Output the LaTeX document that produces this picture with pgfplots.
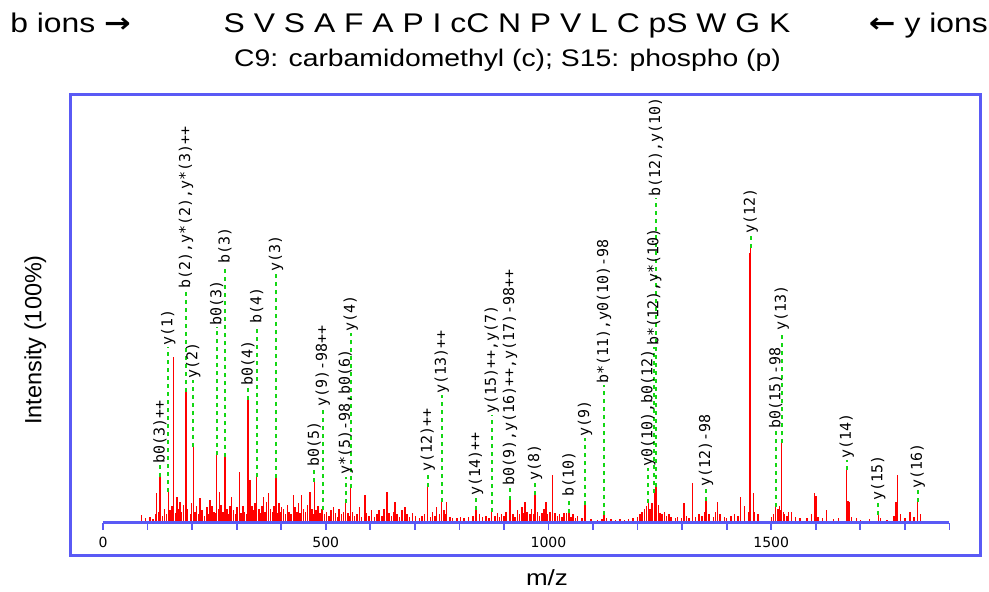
\documentclass[border=0pt]{standalone}
\usepackage{pgfplots}
\pgfplotsset{compat=1.18}
\usepackage{pgfplotstable}
\usepackage{fontspec}
\setmainfont{Liberation Sans}
\newfontfamily\stretchfont[FakeStretch=1.18]{Liberation Sans}
\newfontfamily\arrowfont[FakeStretch=1.18]{DejaVu Sans}
\newfontfamily\monofont{DejaVu Sans Mono}
\newfontfamily\tickfont{DejaVu Sans}
\definecolor{frameblue}{RGB}{90,90,245}
\definecolor{lblgreen}{RGB}{20,215,20}

\pgfplotstableread{
mz h dy lab label
128 16.5 4.4 20.9 b0(3)++
146.6 11.2 52.7 63.9 y(1)
186.3 47.6 36.9 84.5 b(2),y*(2),y*(3)++
202.7 27.6 24.2 51.8 y(2)
255.2 24.5 46.7 71.2 b0(3)
273.8 23.9 69.7 93.6 b(3)
325.5 44.5 4.9 49.4 b0(4)
345 16.7 55.1 71.8 b(4)
388.3 16.1 74.5 90.6 y(3)
474.3 14.8 4.9 19.7 b0(5)
493.1 4.5 37.0 41.5 y(9)-98++
544.8 7.0 9.7 16.7 y*(5)-98,b0(6)
556 12.4 56.4 68.8 y(4)
728.8 13.0 4.9 17.9 y(12)++
760.2 7.6 38.8 46.4 y(13)++
837.3 4.5 4.9 9.4 y(14)++
872.5 3.9 35.2 39.1 y(15)++,y(7)
913.6 8.2 4.8 13.0 b0(9),y(16)++,y(17)-98++
969.7 10.0 4.8 14.8 y(8)
1046 3.3 5.5 8.8 b(10)
1082 6.4 24.2 30.6 y(9)
1124.6 2.7 47.3 50.0 b*(11),y0(10)-98
1224 7.1 12.6 19.7 y0(10),b0(12)
1237.5 10.7 53.2 63.9 b*(12),y*(10)
1241.3 13.0 104.9 117.9 b(12),y(10)
1353.5 7.9 4.5 12.4 y(12)-98
1453.9 100 4.5 104.5 y(12)
1510 5.7 27.9 33.6 b0(15)-98
1523.5 28.8 40.6 69.4 y(13)
1669.4 19.1 3.6 22.7 y(14)
1740.3 2.7 4.9 7.6 y(15)
1828.7 7.6 4.2 11.8 y(16)
}\labeltable

\begin{document}
\begin{tikzpicture}
\begin{axis}[name=A, scale only axis, width=682.5pt, height=346.1pt,
  xmin=-72.95, xmax=1969.7, ymin=-12.18, ymax=155.64,
  axis line style={frameblue, line width=2.25pt},
  xtick=\empty, ytick=\empty, clip=false]
% spectrum peaks
\addplot[red, line width=1.1pt, ycomb] coordinates {
(128,16.5)(146.6,11.2)(186.3,47.6)(202.7,27.6)(255.2,24.5)(273.8,23.9)(325.5,44.5)(345,16.7)(388.3,16.1)(474.3,14.8)(493.1,4.5)(544.8,7.0)(556,12.4)(728.8,13.0)(760.2,7.6)(837.3,4.5)(872.5,3.9)(913.6,8.2)(969.7,10.0)(1046,3.3)(1082,6.4)(1124.6,2.7)(1224,7.1)(1237.5,10.7)(1241.3,13.0)(1353.5,7.9)(1453.9,100)(1510,5.7)(1523.5,28.8)(1669.4,19.1)(1740.3,2.7)(1828.7,7.6)
(86.9,2.7)(120.5,10.6)(157.8,60.3)(166,9.4)(172.8,7.6)(217.7,8.8)(240.2,8.2)(261,11.2)(288.9,9.4)(306,18.5)(330,15.5)(359.9,9.4)(371,10.6)(401,5.7)(427.2,10.0)(446,10.0)(464.6,11.2)(517,5.7)(588,10.0)(637,11.2)(655.4,7.6)(677.9,5.7)(749,5.7)(771.5,7.6)(947.3,7.6)(994.4,7.6)(1009.4,17.3)(1040.9,3.3)(1246.5,6.4)(1304.2,7.0)(1323.7,14.2)(1379,7.6)(1431.4,9.4)(1452,98)(1459.8,10.6)(1596.7,10.6)(1600,9.8)(1624.4,4.5)(1650.5,1.6)(1675.3,7.6)(1691.8,1.6)(1538.3,3.9)(1564.5,1.6)(1780,7.6)(1783.8,17.3)(1811.4,3.9)(1518,6)(1527,4)(1672,8)
(95,1.5)(105,2)(112,1.2)(118,3)(125,4)(133,2.5)(138,5)(142,3)(150,4.5)(155,6)(163,3.5)(168,5)(176,4)(181,6.5)(190,5)(196,3)(199,7)(206,4)(210,6)(214,3)(222,4.5)(228,2.5)(233,5.5)(237,3)(245,6)(249,4)(252,3.5)(259,5)(265,6.5)(269,4)(278,5)(282,3)(285,6)(293,4.5)(297,3)(301,5.5)(310,3.5)(314,6)(318,4)(322,3)(334,6)(338,4.5)(341,7)(350,5)(354,3.5)(357,6)(364,4)(367,7.5)(376,5)(380,4)(384,6)(392,3.5)(395,7)(398,4)(405,5)(410,3)(414,6.5)(418,4)(422,3)(431,5.5)(435,4)(439,7)(442,3.5)(450,5)(455,4)(459,6.5)(469,5)(471,3)(478,4.5)(483,6)(487,3.5)(490,5)(497,3)(502,4)(507,2.5)(512,4.5)(522,3.5)(526,2)(530,5)(535,3)(540,4)(550,3.5)(553,2.5)(560,4)(565,2.5)(570,3)(576,5.5)(580,2)(592,3.5)(597,2.5)(603,4.5)(610,2)(615,3)(620,4.5)(626,2.5)(631,5)(642,3.5)(648,2.5)(652,4)(660,3)(665,2)(671,4.5)(682,3)(688,2)(695,3.5)(702,2.5)(710,1.5)(716,2.5)(722,3)(735,2)(740,4)(745,2.5)(755,3)(765,4.5)(769,3)(779,2)(785,1.5)(795,1.5)(802,2)(810,1.5)(820,2)(830,2.5)(845,3)(852,2)(860,2.5)(866,1.8)(880,2.5)(885,3.5)(890,2)(895,3)(900,2.5)(905,4)(920,3)(925,2)(930,4.5)(935,3)(940,5.5)(943,3.5)(952,4)(958,3)(962,5)(966,3)(975,4)(980,2.5)(985,3.5)(990,5)(998,3)(1003,4)(1015,3.5)(1020,2.5)(1025,3)(1030,2)(1035,3.5)(1050,2)(1055,3)(1060,1.5)(1065,2.5)(1075,1.5)(1095,1.2)(1110,1)(1120,1.2)(1130,1.5)(1140,1.2)(1150,1)(1160,1.3)(1170,1)(1180,1.2)(1190,1.5)(1200,2)(1205,3)(1210,4)(1215,5)(1220,6)(1228,5)(1232,7)(1243,6)(1250,3.5)(1255,3)(1260,4)(1265,2.5)(1270,3)(1275,2)(1285,1.5)(1290,2)(1298,1.5)(1310,2.5)(1315,1.5)(1330,2)(1338,3)(1345,2.5)(1350,4)(1360,3)(1370,2)(1375,4)(1385,3)(1395,2)(1400,1.5)(1410,2.5)(1418,3)(1425,2.5)(1440,6)(1450,4)(1462,4)(1470,3)(1500,2)(1505,3)(1515,5)(1520,4.5)(1530,3)(1535,2.5)(1545,4)(1555,2)(1580,1.5)(1590,3)(1605,2)(1615,1.5)(1640,1.2)(1680,2)(1700,1)(1720,1.2)(1745,1.5)(1760,1)(1775,2.5)(1790,3)(1800,1.5)(1820,2)(1835,3)
};
% dashed label leaders
\addplot[draw=lblgreen, color=lblgreen, line width=1.4pt, dash pattern=on 3pt off 3pt,
  quiver={u=0, v=\thisrow{dy}, every arrow/.append style={draw=lblgreen}}]
  table[x=mz, y=h] {\labeltable};
% labels
\addplot[draw=none, mark=none, nodes near coords, point meta=explicit symbolic,
  every node near coord/.append style={rotate=90, anchor=west, inner sep=1pt,
    text=black, font=\monofont\fontsize{11.2pt}{12pt}\selectfont}]
  table[x=mz, y=lab, meta=label] {\labeltable};
\end{axis}

\begin{axis}[at={(A.origin)}, anchor=south west, scale only axis,
  width=634.8pt, height=20pt, xmin=0, xmax=1900, ymin=0, ymax=1,
  hide y axis, axis x line*=bottom,
  axis line style={frameblue, line width=1.9pt},
  xtick={0,500,1000,1500}, xticklabels={0,500,1000,1500},
  minor xtick={100,200,...,1900},
  tick align=outside, major tick length=5.6pt, minor tick length=5.6pt,
  tick style={frameblue, line width=1.3pt},
  minor tick style={frameblue, line width=1.3pt},
  xticklabel style={font=\tickfont\fontsize{10.5pt}{12pt}\selectfont, text=black, yshift=-1.5pt}]
\addplot[draw=none] coordinates {(0,0)};
\end{axis}

\coordinate (TL) at ([xshift=-52.875pt,yshift=417pt]A.south west);
\node[anchor=base west, inner sep=0] at ([xshift=7.5pt,yshift=-24.75pt]TL)
  {\stretchfont\fontsize{20.25pt}{24pt}\selectfont b ions {\arrowfont\bfseries →}};
\node[anchor=base, inner sep=0] at ([xshift=380.25pt,yshift=-24.75pt]TL)
  {\stretchfont\fontsize{20.25pt}{24pt}\selectfont S V S A F A P I cC N P V L C pS W G K};
\node[anchor=base, inner sep=0] at ([xshift=380.6pt,yshift=-50.25pt]TL)
  {\stretchfont\fontsize{18pt}{22pt}\selectfont C9: carbamidomethyl (c); S15: phospho (p)};
\node[anchor=base east, inner sep=0] at ([xshift=741pt,yshift=-24.75pt]TL)
  {\stretchfont\fontsize{20.25pt}{24pt}\selectfont {\arrowfont\bfseries ←} y ions};
\node[rotate=90, anchor=base west, inner sep=0] at ([xshift=31.1pt,yshift=-318.75pt]TL)
  {\fontsize{17.6pt}{20pt}\selectfont Intensity (100\%)};
\node[anchor=base, inner sep=0] at ([xshift=410.25pt,yshift=-439.5pt]TL)
  {\stretchfont\fontsize{16.5pt}{20pt}\selectfont m/z};

\pgfresetboundingbox
\path ([xshift=-52.875pt,yshift=-27pt]A.south west) rectangle ++(741.75pt,444pt);
\end{tikzpicture}
\end{document}
